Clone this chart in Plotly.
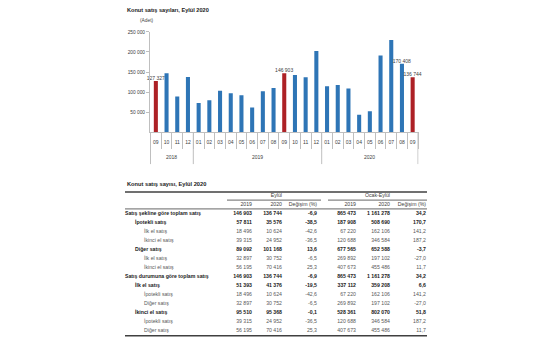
import plotly.graph_objects as go

W, H = 555, 355
FONT = "Liberation Sans, Arial, sans-serif"

# ------------------------------------------------------------------ data
chart_title = "Konut satış sayıları, Eylül 2020"
unit_label = "(Adet)"
years = ["2018"] * 4 + ["2019"] * 12 + ["2020"] * 9
months = (["09", "10", "11", "12"]
          + ["01", "02", "03", "04", "05", "06", "07", "08", "09", "10", "11", "12"]
          + ["01", "02", "03", "04", "05", "06", "07", "08", "09"])
sales = [127327, 146948, 88866, 137362,
         72937, 79521, 103640, 97001, 92056, 61735, 102236, 110123,
         146903, 142691, 136772, 202420,
         114722, 117632, 108670, 43894, 52591, 191316, 229357, 170408, 136744]
labelled_points = [("2018", "09"), ("2019", "09"), ("2020", "08"), ("2020", "09")]
highlight_month = "09"
y_tick_vals = [50000, 100000, 150000, 200000, 250000]
y_tick_text = ["50 000", "100 000", "150 000", "200 000", "250 000"]

table_title = "Konut satış sayısı, Eylül 2020"
period_headers = ["Eylül", "Ocak-Eylül"]
column_headers = ["2019", "2020", "Değişim (%)"]
row_labels = ["Satış şekline göre toplam satış", "İpotekli satış", "İlk el satış",
              "İkinci el satış", "Diğer satış", "İlk el satış", "İkinci el satış",
              "Satış durumuna göre toplam satış", "İlk el satış", "İpotekli satış",
              "Diğer satış", "İkinci el satış", "İpotekli satış", "Diğer satış"]
row_levels = [0, 1, 2, 2, 1, 2, 2, 0, 1, 2, 2, 1, 2, 2]
sep_2019 = [146903, 57811, 18496, 39315, 89092, 32897, 56195,
            146903, 51393, 18496, 32897, 95510, 39315, 56195]
sep_2020 = [136744, 35576, 10624, 24952, 101168, 30752, 70416,
            136744, 41376, 10624, 30752, 95368, 24952, 70416]
sep_change = [-6.9, -38.5, -42.6, -36.5, 13.6, -6.5, 25.3,
              -6.9, -19.5, -42.6, -6.5, -0.1, -36.5, 25.3]
ytd_2019 = [865473, 187908, 67220, 120688, 677565, 269892, 407673,
            865473, 337112, 67220, 269892, 528361, 120688, 407673]
ytd_2020 = [1161278, 508690, 162106, 346584, 652588, 197102, 455486,
            1161278, 359208, 162106, 197102, 802070, 346584, 455486]
ytd_change = [34.2, 170.7, 141.2, 187.2, -3.7, -27.0, 11.7,
              34.2, 6.6, 141.2, -27.0, 51.8, 187.2, 11.7]


def fmt_int(v):
    return f"{v:,}".replace(",", " ")


def fmt_pct(v):
    return f"{v:.1f}".replace(".", ",")


# ------------------------------------------------------------------ styles / layout constants
BLUE = "#2E75B6"
RED = "#AD2126"
AXIS_GREY = "#BFBFBF"
TXT = "#404040"
DARK = "#1A1A1A"
LIGHT = "#595959"

chart_x0, chart_x1 = 150, 418.5      # px
chart_top, chart_base = 30, 131      # px
year_label_y = 156                   # px
divider_bottom = 163                 # px

tbl_left, tbl_right = 125, 427
label_x = [125, 135, 144]            # indentation by level
col_right = [252, 282, 317, 356, 390, 426]
row_pitch = 9.6
first_row_center = 195.0            # header row "Eylül"
TBL_FS = 5.2

fig = go.Figure()

# ------------------------------------------------------------------ bar chart
cats = [f"{m}/{y}" for y, m in zip(years, months)]
colors = [RED if m == highlight_month else BLUE for m in months]
texts = [fmt_int(v) if (y, m) in labelled_points else "" for y, m, v in zip(years, months, sales)]
fig.add_trace(go.Bar(
    x=cats, y=sales,
    marker=dict(color=colors, line=dict(width=0)),
    text=texts, textposition="outside", constraintext="none", cliponaxis=False,
    textfont=dict(family=FONT, size=5.0, color=TXT),
    hoverinfo="skip", showlegend=False,
))

# year groups: labels and long dividers, derived from the data
groups = []
for i, y in enumerate(years):
    if not groups or groups[-1][0] != y:
        groups.append([y, i, i])
    else:
        groups[-1][2] = i

shapes = []
annotations = []
boundaries = sorted({g[1] - 0.5 for g in groups} | {groups[-1][2] + 0.5})
for b in boundaries:
    shapes.append(dict(type="line", xref="x", yref="paper", x0=b, x1=b,
                       y0=1 - chart_base / H, y1=1 - divider_bottom / H,
                       line=dict(color=AXIS_GREY, width=1)))
for name, i0, i1 in groups:
    annotations.append(dict(text=name, x=(i0 + i1) / 2, y=1 - year_label_y / H,
                            xref="x", yref="paper", xanchor="center", yanchor="middle",
                            showarrow=False, font=dict(family=FONT, size=5.0, color=TXT)))

# ------------------------------------------------------------------ table as text marks
n_rows = len(row_labels)
row_idx = list(range(n_rows))


def txt_color(level):
    return LIGHT if level == 2 else DARK


def wrap(s, level):
    return f"<b>{s}</b>" if level < 2 else s


for lvl in (0, 1, 2):
    idx = [i for i in row_idx if row_levels[i] == lvl]
    fig.add_trace(go.Scatter(
        x=[label_x[lvl]] * len(idx), y=idx, mode="text",
        text=[wrap(row_labels[i], lvl) for i in idx],
        textposition="middle right",
        textfont=dict(family=FONT, size=TBL_FS, color=txt_color(lvl)),
        xaxis="x2", yaxis="y2", hoverinfo="skip", showlegend=False,
    ))

value_cols = [
    [fmt_int(v) for v in sep_2019], [fmt_int(v) for v in sep_2020], [fmt_pct(v) for v in sep_change],
    [fmt_int(v) for v in ytd_2019], [fmt_int(v) for v in ytd_2020], [fmt_pct(v) for v in ytd_change],
]
for j, col in enumerate(value_cols):
    fig.add_trace(go.Scatter(
        x=[col_right[j]] * n_rows, y=row_idx, mode="text",
        text=[wrap(col[i], row_levels[i]) for i in row_idx],
        textposition="middle left",
        textfont=dict(family=FONT, size=TBL_FS, color=[txt_color(l) for l in row_levels]),
        xaxis="x2", yaxis="y2", hoverinfo="skip", showlegend=False,
    ))

fig.add_trace(go.Scatter(
    x=[col_right[1], col_right[4]], y=[-2, -2], mode="text",
    text=period_headers, textposition="middle left",
    textfont=dict(family=FONT, size=TBL_FS, color=TXT),
    xaxis="x2", yaxis="y2", hoverinfo="skip", showlegend=False,
))
fig.add_trace(go.Scatter(
    x=col_right, y=[-1] * 6, mode="text",
    text=column_headers * 2, textposition="middle left",
    textfont=dict(family=FONT, size=TBL_FS, color=TXT),
    xaxis="x2", yaxis="y2", hoverinfo="skip", showlegend=False,
))

rules = [
    dict(y=-2.42, x0=tbl_left, x1=tbl_right, w=1.6),
    dict(y=-1.5, x0=227, x1=321, w=0.8),
    dict(y=-1.5, x0=328, x1=tbl_right, w=0.8),
    dict(y=-0.52, x0=tbl_left, x1=tbl_right, w=0.8),
    dict(y=13.6, x0=tbl_left, x1=tbl_right, w=1.6),
]
shapes += [dict(type="line", xref="x2", yref="y2", x0=r["x0"], x1=r["x1"], y0=r["y"], y1=r["y"],
                line=dict(color=TXT, width=r["w"])) for r in rules]

tbl_top = first_row_center - row_pitch / 2
tbl_bot = first_row_center + (n_rows + 1.5) * row_pitch

annotations += [
    dict(text=f"<b>{chart_title}</b>", x=125 / W, y=1 - 8 / H, xref="paper", yref="paper",
         xanchor="left", yanchor="middle", showarrow=False,
         font=dict(family=FONT, size=5.6, color=DARK)),
    dict(text=unit_label, x=138 / W, y=1 - 19 / H, xref="paper", yref="paper",
         xanchor="left", yanchor="middle", showarrow=False,
         font=dict(family=FONT, size=4.8, color=TXT)),
    dict(text=f"<b>{table_title}</b>", x=125 / W, y=1 - 183.5 / H, xref="paper", yref="paper",
         xanchor="left", yanchor="middle", showarrow=False,
         font=dict(family=FONT, size=5.7, color=DARK)),
]

fig.update_layout(
    width=W, height=H, margin=dict(l=0, r=0, t=0, b=0),
    paper_bgcolor="white", plot_bgcolor="white",
    bargap=0.62,
    font=dict(family=FONT, size=5, color=TXT),
    xaxis=dict(
        type="category", domain=[chart_x0 / W, chart_x1 / W],
        tickvals=cats, ticktext=months, tickangle=0,
        showline=True, linecolor=AXIS_GREY, linewidth=1,
        ticks="outside", tickson="boundaries", ticklen=16, tickcolor=AXIS_GREY,
        ticklabelstandoff=5,
        tickfont=dict(family=FONT, size=5.0, color=TXT), showgrid=False,
    ),
    yaxis=dict(
        domain=[1 - chart_base / H, 1 - chart_top / H], range=[0, 250000],
        tickvals=y_tick_vals, ticktext=y_tick_text,
        showline=True, linecolor=AXIS_GREY, linewidth=1,
        ticks="outside", ticklen=3, tickcolor=AXIS_GREY,
        showgrid=False, zeroline=False,
        tickfont=dict(family=FONT, size=4.8, color=TXT),
    ),
    xaxis2=dict(domain=[0, 1], range=[0, W], visible=False, anchor="y2"),
    yaxis2=dict(domain=[1 - tbl_bot / H, 1 - tbl_top / H],
                range=[n_rows - 0.5 + 1.0, -2.5], visible=False, anchor="x2"),
    shapes=shapes, annotations=annotations,
)

fig.write_html("out.html", config={"displayModeBar": False},
               post_script="document.body.style.margin='0px';")
